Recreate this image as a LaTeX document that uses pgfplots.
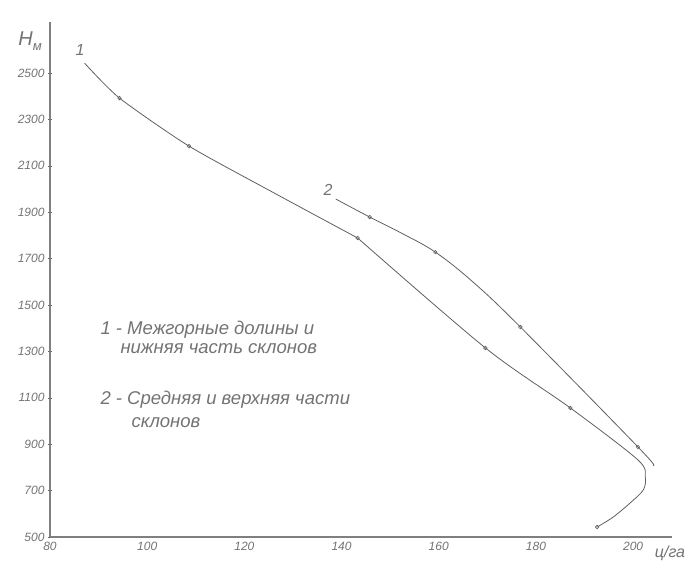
\documentclass[border=0pt]{standalone}
\usepackage{fontspec}
\setmainfont{Liberation Sans}
\usepackage{pgfplots}
\pgfplotsset{compat=1.18}
\definecolor{pencil}{RGB}{95,95,95}
\definecolor{ink}{RGB}{115,115,115}
\begin{document}
\begin{tikzpicture}
\useasboundingbox (0pt,0pt) rectangle (694pt,576pt);
\begin{axis}[
  at={(50pt,39pt)}, anchor=south west, scale only axis,
  width=622pt, height=515pt,
  xmin=80, xmax=208, ymin=500, ymax=2720,
  axis lines=left,
  x axis line style={-, draw=pencil!80, line width=1.4pt},
  y axis line style={-, draw=pencil!80, line width=1.4pt},
  xtick={80,100,...,200}, ytick={500,700,...,2500},
  /pgf/number format/assume math mode=true,
  /pgf/number format/set thousands separator={},
  tick label style={font=\itshape\fontsize{12}{12}\selectfont, text=ink},
  tick style={pencil, line width=0.5pt},
  major tick length=4pt,
  xtick style={draw=none},
  clip=false,
]
% Curve 1 (upper part)
\addplot[pencil, line width=0.8pt, smooth, tension=0.4] coordinates {
  (87.1,2543) (94.3,2392) (108.6,2185) (125.5,1990) (143.3,1789)
};
% Curve 1 (lower part)
\addplot[pencil, line width=0.8pt, smooth, tension=0.5] coordinates {
  (143.3,1789) (169.6,1315) (187.1,1056) (201.0,832) (202.5,759) (202.1,703)
  (199.4,647) (195.9,586) (192.6,543)
};
\addplot[only marks, mark=o, mark size=1.8pt, pencil, mark options={line width=0.6pt}] coordinates {
  (94.3,2392) (108.6,2185) (143.3,1789) (169.6,1315) (187.1,1056) (192.6,543)
};
% Curve 2
\addplot[pencil, line width=0.8pt, smooth, tension=0.6] coordinates {
  (138.8,1957) (145.8,1879) (152.5,1808) (159.3,1728) (167.0,1600) (176.8,1405) (201.0,888) (204.1,810)
};
\addplot[only marks, mark=o, mark size=1.8pt, pencil, mark options={line width=0.6pt}] coordinates {
  (145.8,1879) (159.3,1728) (176.8,1405) (201.0,888)
};
\end{axis}
\node[ink, font=\itshape\fontsize{20}{20}\selectfont] at (30pt,535pt) {H\raisebox{-0.5ex}{\fontsize{13}{13}\selectfont м}};
\node[ink, font=\itshape\fontsize{16}{16}\selectfont] at (670pt,23pt) {ц/га};
\node[ink, font=\itshape\fontsize{16}{16}\selectfont] at (80pt,526pt) {1};
\node[ink, font=\itshape\fontsize{16}{16}\selectfont] at (328pt,386pt) {2};
\begin{scope}[every node/.style={ink, anchor=west, font=\itshape\fontsize{18.5}{18.5}\selectfont}]
\node at (97pt,246pt) {1 - Межгорные долины и};
\node at (117pt,227pt) {нижняя часть склонов};
\node at (97pt,176pt) {2 - Средняя и верхняя части};
\node at (128pt,153pt) {склонов};
\end{scope}
\end{tikzpicture}
\end{document}
